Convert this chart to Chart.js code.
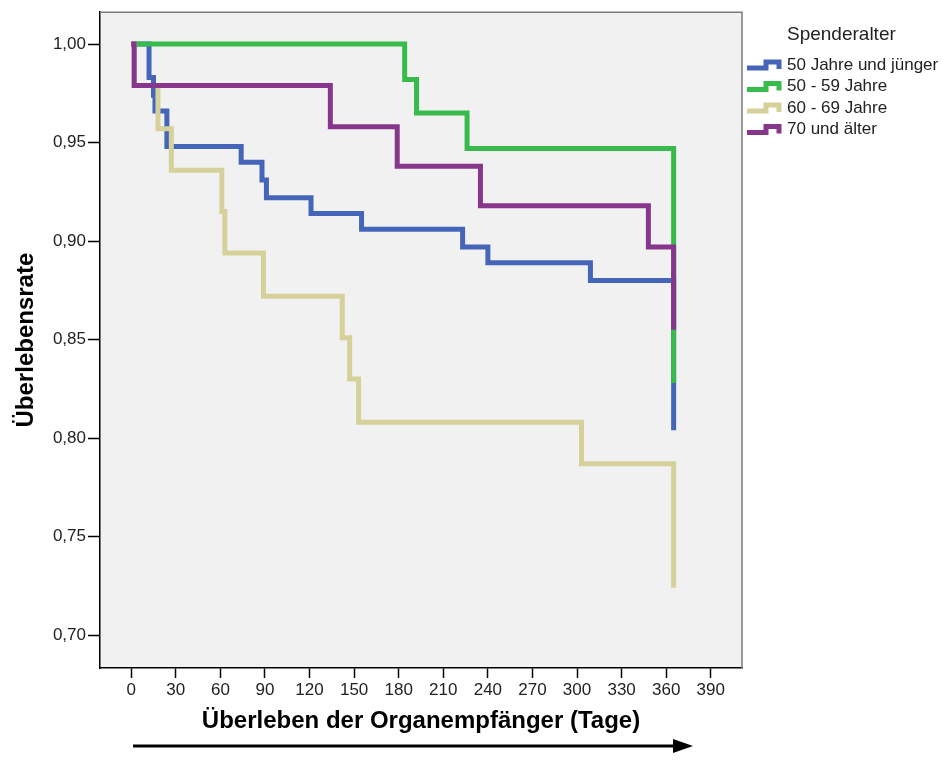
<!DOCTYPE html>
<html lang="de">
<head>
<meta charset="UTF-8">
<title>Überlebensrate nach Spenderalter</title>
<script src="https://cdn.jsdelivr.net/npm/chart.js@4.4.0/dist/chart.umd.min.js"></script>
<style>
  html, body { margin: 0; padding: 0; background: #fff; }
</style>
</head>
<body>
<canvas id="km" width="942" height="783"></canvas>
<script>
const legendTitle = 'Spenderalter';
const groupNames = ['50 Jahre und jünger', '50 - 59 Jahre', '60 - 69 Jahre', '70 und älter'];

const daysUnder50 = [0, 12, 15, 16, 24, 74, 88, 91, 121, 155, 223, 240, 309, 365];
const survUnder50 = [1.000, 0.983, 0.974, 0.966, 0.948, 0.940, 0.931, 0.922, 0.914, 0.906, 0.897, 0.889, 0.880, 0.804];

const days50to59 = [0, 184, 192, 226, 365];
const surv50to59 = [1.000, 0.982, 0.965, 0.947, 0.828];

const days60to69 = [0, 2, 18, 27, 61, 63, 89, 142, 147, 153, 303, 365];
const surv60to69 = [1.000, 0.979, 0.957, 0.936, 0.915, 0.894, 0.872, 0.851, 0.830, 0.808, 0.787, 0.724];

const days70plus = [0, 2, 134, 179, 235, 348, 365];
const surv70plus = [1.000, 0.979, 0.958, 0.938, 0.918, 0.897, 0.855];

const xTicks = [0, 30, 60, 90, 120, 150, 180, 210, 240, 270, 300, 330, 360, 390];
const yTicks = [0.70, 0.75, 0.80, 0.85, 0.90, 0.95, 1.00];

const colors = ['#4565b9', '#38bb4c', '#d6d19b', '#86368b'];
const fontFam = '"Liberation Sans", Arial, sans-serif';

function toPoints(days, surv) {
    return days.map((d, i) => ({ x: d, y: surv[i] }));
}

const series = [
    toPoints(daysUnder50, survUnder50),
    toPoints(days50to59, surv50to59),
    toPoints(days60to69, surv60to69),
    toPoints(days70plus, surv70plus)
];
// lower order is drawn on top (purple over all, like SPSS)
const drawOrder = [3, 2, 1, 0];

const datasets = series.map((pts, i) => ({
    label: groupNames[i],
    data: pts,
    borderColor: colors[i],
    backgroundColor: colors[i],
    borderWidth: 5,
    stepped: 'before',
    pointRadius: 0,
    fill: false,
    borderCapStyle: 'butt',
    borderJoinStyle: 'miter',
    order: drawOrder[i]
}));

const framePlugin = {
    id: 'frame',
    beforeDraw(chart) {
        const { ctx, chartArea: a } = chart;
        ctx.save();
        ctx.fillStyle = '#ffffff';
        ctx.fillRect(0, 0, chart.width, chart.height);
        ctx.fillStyle = '#f1f1f1';
        ctx.fillRect(a.left, a.top, a.right - a.left, a.bottom - a.top);
        ctx.restore();
    },
    afterDraw(chart) {
        const { ctx, chartArea: a } = chart;
        ctx.save();
        // top + right frame
        ctx.strokeStyle = '#7a7a7a';
        ctx.lineWidth = 1.5;
        ctx.beginPath();
        ctx.moveTo(a.left, a.top);
        ctx.lineTo(a.right, a.top);
        ctx.lineTo(a.right, a.bottom);
        ctx.stroke();

        // legend
        ctx.fillStyle = '#222';
        ctx.textBaseline = 'middle';
        ctx.font = '19px ' + fontFam;
        ctx.fillText(legendTitle, 787, 35);
        ctx.font = '17px ' + fontFam;
        groupNames.forEach((name, i) => {
            const y = 65 + i * 21.5;
            ctx.strokeStyle = colors[i];
            ctx.lineWidth = 5;
            ctx.lineJoin = 'miter';
            ctx.beginPath();
            ctx.moveTo(747, y + 3);
            ctx.lineTo(766, y + 3);
            ctx.lineTo(766, y - 3);
            ctx.lineTo(779, y - 3);
            ctx.lineTo(779, y + 4);
            ctx.stroke();
            ctx.fillText(name, 787, y);
        });

        // arrow under the x axis
        ctx.strokeStyle = '#000';
        ctx.lineWidth = 3;
        ctx.beginPath();
        ctx.moveTo(133, 746);
        ctx.lineTo(677, 746);
        ctx.stroke();
        ctx.fillStyle = '#000';
        ctx.beginPath();
        ctx.moveTo(673, 739);
        ctx.lineTo(693, 746);
        ctx.lineTo(673, 753);
        ctx.closePath();
        ctx.fill();
        ctx.restore();
    }
};

new Chart(document.getElementById('km'), {
    type: 'line',
    data: { datasets: datasets },
    options: {
        responsive: false,
        animation: false,
        layout: { padding: { top: 11, right: 200, left: 0, bottom: 0 } },
        plugins: {
            legend: { display: false },
            tooltip: { enabled: false }
        },
        scales: {
            x: {
                type: 'linear',
                min: -21,
                max: 411,
                afterBuildTicks: s => { s.ticks = xTicks.map(v => ({ value: v })); },
                afterFit: s => { s.height = 115; },
                grid: { drawOnChartArea: false, drawTicks: true, tickLength: 10, tickWidth: 1.5, tickColor: '#000' },
                border: { color: '#000', width: 1.5 },
                ticks: { font: { family: fontFam, size: 17 }, color: '#222', padding: 2, maxRotation: 0, autoSkip: false },
                title: {
                    display: true,
                    text: 'Überleben der Organempfänger (Tage)',
                    color: '#000',
                    font: { family: fontFam, size: 24, weight: 'bold' },
                    padding: { top: 0, bottom: 47 }
                }
            },
            y: {
                type: 'linear',
                min: 0.6833,
                max: 1.0162,
                afterBuildTicks: s => { s.ticks = yTicks.map(v => ({ value: v })); },
                afterFit: s => { s.width = 100; },
                grid: { drawOnChartArea: false, drawTicks: true, tickLength: 12, tickWidth: 1.5, tickColor: '#000' },
                border: { color: '#000', width: 1.5 },
                ticks: {
                    font: { family: fontFam, size: 17 },
                    color: '#222',
                    padding: 2,
                    callback: v => v.toFixed(2).replace('.', ',')
                },
                title: {
                    display: true,
                    text: 'Überlebensrate',
                    color: '#000',
                    font: { family: fontFam, size: 24, weight: 'bold' },
                    padding: { top: 12, bottom: 0 }
                }
            }
        }
    },
    plugins: [framePlugin]
});
</script>
</body>
</html>
